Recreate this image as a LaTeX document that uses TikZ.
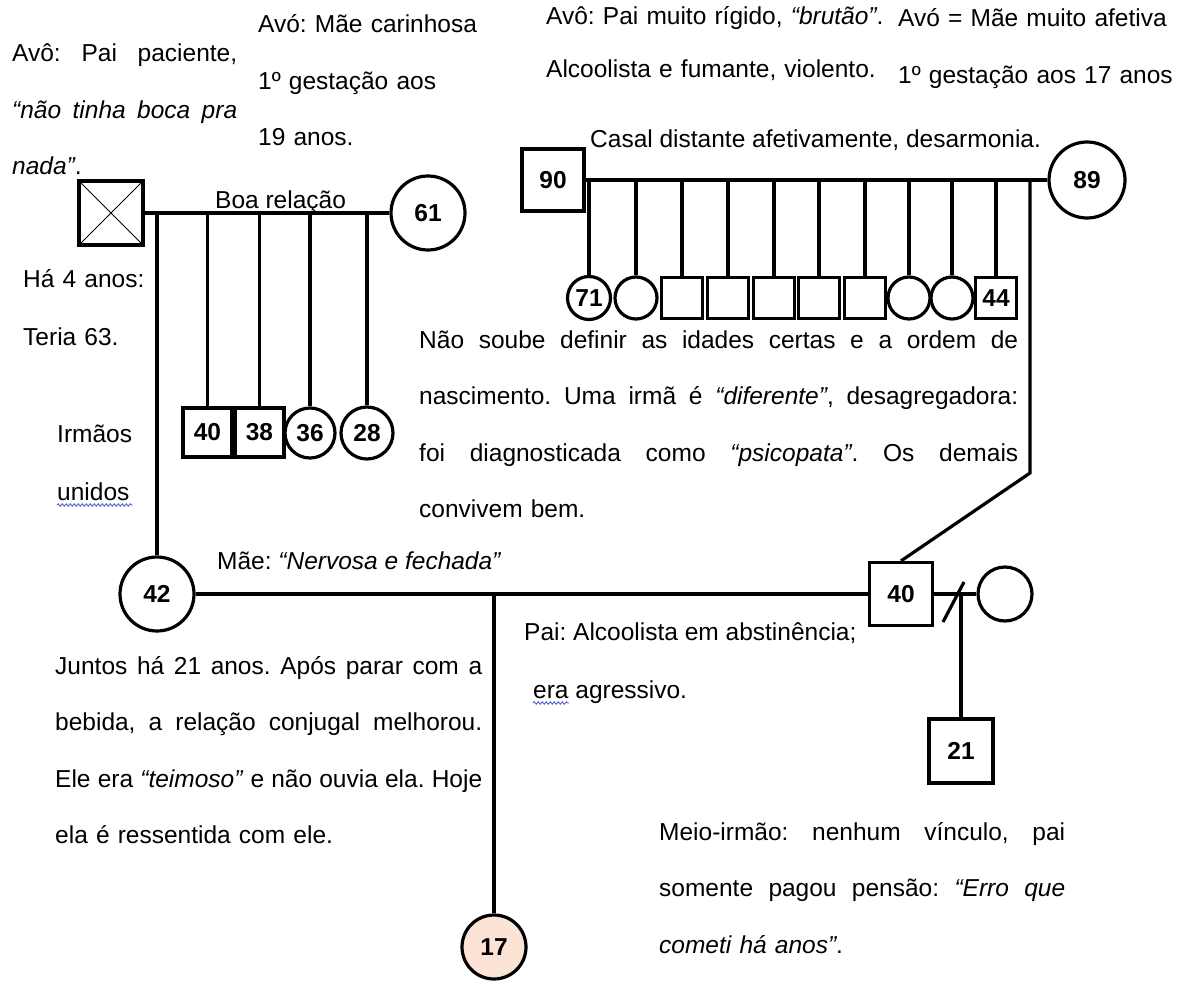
\documentclass[tikz,border=0pt]{standalone}
\usepackage{fontspec}
\setmainfont{Liberation Sans}
\usetikzlibrary{calc, decorations.pathmorphing}
\definecolor{pessego}{HTML}{FBE4D5}
\definecolor{corretor}{HTML}{5560CC}
\frenchspacing
% linha justificada com largura fixa
\newcommand{\justo}[2]{\makebox[#1][s]{\spaceskip=0pt\xspaceskip=0pt #2}}

\begin{document}
\begin{tikzpicture}[
    x=1pt, y=-1pt,
    font=\fontsize{24.5}{56.5}\selectfont,
    linha/.style={line width=3.2pt},
    homem/.style={rectangle, draw, line width=3.2pt, minimum size=#1pt, inner sep=0pt, fill=white, font=\fontsize{24.5}{28}\selectfont\bfseries},
    homem/.default=62,
    mulher/.style={circle, draw, line width=3.2pt, minimum size=#1pt, inner sep=0pt, fill=white, font=\fontsize{24.5}{28}\selectfont\bfseries},
    mulher/.default=62,
    falecido/.style={path picture={\draw[line width=0.9pt] (path picture bounding box.north west) -- (path picture bounding box.south east) (path picture bounding box.north east) -- (path picture bounding box.south west);}},
    txt/.style={anchor=base west, inner sep=0pt, align=left},
    ondas/.style={corretor, line width=0.9pt, decorate, decoration={snake, amplitude=1.2pt, segment length=4pt}}
]
    \useasboundingbox (0,0) rectangle (1183,987);

    % --- Avos maternos e filhos ---
    \node[homem=64, falecido] (avoMat) at (111,213) {};
    \node[mulher=74] (avoaMat) at (428,213) {61};
    \node[homem=49] (tio40) at (207.5,432.5) {40};
    \node[homem=49] (tio38) at (259.5,432.5) {38};
    \node[mulher=50] (tia36) at (310,433) {36};
    \node[mulher=52] (tia28) at (367,433) {28};

    % --- Avos paternos e filhos ---
    \node[homem=62] (avoPat) at (553,180) {90};
    \node[mulher=76] (avoaPat) at (1087,180) {89};
    \node[mulher=43] (f1) at (589,298) {71};
    \node[mulher=42] (f2) at (636,298) {};
    \node[homem=41] (f3) at (682,298) {};
    \node[homem=41] (f4) at (728,298) {};
    \node[homem=41] (f5) at (774,298) {};
    \node[homem=41] (f6) at (819,298) {};
    \node[homem=41] (f7) at (865,298) {};
    \node[mulher=42] (f8) at (909,298) {};
    \node[mulher=42] (f9) at (952,298) {};
    \node[homem=41] (f10) at (996,298) {44};

    % --- Pais, ex-companheira e filhos ---
    \node[mulher=74] (mae) at (157,594) {42};
    \node[homem=63] (pai) at (901,594) {40};
    \node[mulher=54] (exPai) at (1005,594) {};
    \node[homem=64] (meio) at (961,751) {21};
    \node[mulher=64, fill=pessego] (filha) at (494,947) {17};
    \coordinate (dobra) at (1030,473);

    % --- Ligacoes ---
    \draw[linha] (avoMat) -- (avoaMat);
    \draw[linha] (mae.north |- avoMat.center) -- (mae.north);
    \foreach \n in {tio40, tio38, tia36, tia28}
        \draw[linha] (\n.north |- avoMat.center) -- (\n.north);

    \draw[linha] (avoPat) -- (avoaPat);
    \foreach \n in {f1, f2, f3, f4, f5, f6, f7, f8, f9, f10}
        \draw[linha] (\n.north |- avoPat.center) -- (\n.north);
    \draw[linha] (dobra |- avoPat.center) -- (dobra) -- (pai.north);

    \draw[linha] (mae) -- (pai);
    \draw[linha] (filha.north |- mae.center) -- (filha.north);
    \draw[linha] (pai) -- (exPai);
    \draw[linha] (meio.north |- pai.center) -- (meio.north);
    \draw[linha] ($(meio.north |- pai.center)+(-18,28)$) -- ++(21,-40);

    % --- Textos ---
    \node[txt, text width=228pt] (tAvoMat) at (12,62) {\justo{225pt}{Avô: Pai paciente,}\\
        \justo{225pt}{\itshape “não tinha boca pra}\\
        \textit{nada”}.};
    \node[txt, text width=240pt] (tAvoaMat) at (258,33) {Avó: Mãe carinhosa\\1º gestação aos\\19 anos.};
    \node[txt, text width=350pt] (tAvoPat) at (546,25) {Avô: Pai muito rígido, \textit{“brutão”}.\\[-3.5pt]Alcoolista e fumante, violento.};
    \node[txt, text width=285pt] (tAvoaPat) at (898,27) {Avó = Mãe muito afetiva\\1º gestação aos 17 anos};
    \node[txt] (tCasal) at (590,148) {Casal distante afetivamente, desarmonia.};
    \node[txt] (tBoa) at (215,208) {Boa relação};
    \node[txt, text width=130pt] (tFalec) at (23,287) {Há 4 anos:\\[2pt]Teria 63.};
    \node[txt] (tIrmaos) at (57,442) {Irmãos};
    \node[txt] (tUnidos) at (57,500) {unidos};
    \draw[ondas] ($(tUnidos.base west)+(0,5)$) -- ($(tUnidos.base east)+(3,5)$);
    \node[txt, text width=602pt] (tIdades) at (419,348) {\justo{599pt}{Não soube definir as idades certas e a ordem de}\\
        \justo{599pt}{nascimento. Uma irmã é \textit{“diferente”}, desagregadora:}\\
        \justo{599pt}{foi diagnosticada como \textit{“psicopata”}. Os demais}\\
        convivem bem.};
    \node[txt] (tMae) at (217,569) {Mãe: \textit{“Nervosa e fechada”}};
    \node[txt] (tPai) at (524,640) {Pai: Alcoolista em abstinência;};
    \node[txt] (tEra) at (533,698) {era agressivo.};
    \draw[ondas] ($(tEra.base west)+(0,5)$) -- ++(36,0);
    \node[txt, text width=430pt] (tJuntos) at (55,674) {\justo{427pt}{Juntos há 21 anos. Após parar com a}\\
        \justo{427pt}{bebida, a relação conjugal melhorou.}\\
        \justo{427pt}{Ele era \textit{“teimoso”} e não ouvia ela. Hoje}\\
        ela é ressentida com ele.};
    \node[txt, text width=410pt] (tMeio) at (659,840) {\justo{406pt}{Meio-irmão: nenhum vínculo, pai}\\
        \justo{406pt}{somente pagou pensão: \textit{“Erro que}}\\
        \textit{cometi há anos”}.};
\end{tikzpicture}
\end{document}
